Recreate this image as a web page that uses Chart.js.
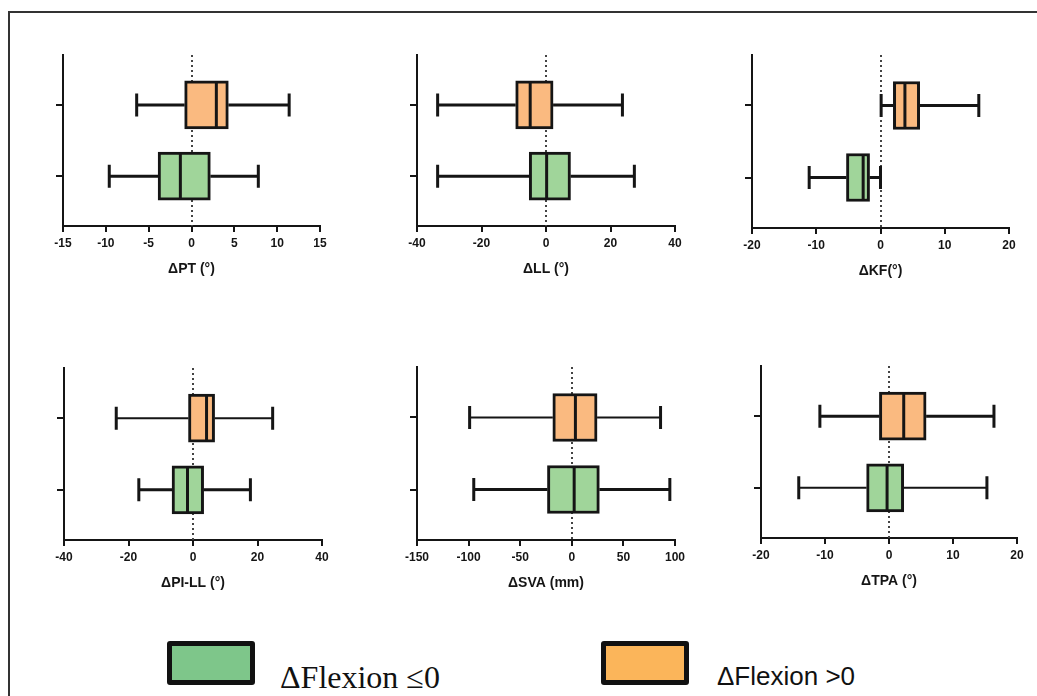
<!DOCTYPE html>
<html>
<head>
<title>Flexion box plots</title>
<script src="https://cdn.jsdelivr.net/npm/chart.js"></script>
<style>
body { margin:0; background:#fff; width:1037px; height:696px; overflow:hidden; position:relative; }
.frame { position:absolute; left:8px; top:11px; width:1100px; height:1000px; border-top:2px solid #333; border-left:2px solid #333; }
canvas { position:absolute; }
.key { position:absolute; box-sizing:border-box; border:5px solid #111; border-radius:3px; width:88px; height:44px; top:641px; }
.keytext { position:absolute; white-space:nowrap; color:#111; line-height:1; }
</style>
</head>
<body>
<div class="frame"></div>
<canvas id="p0"></canvas>
<canvas id="p1"></canvas>
<canvas id="p2"></canvas>
<canvas id="p3"></canvas>
<canvas id="p4"></canvas>
<canvas id="p5"></canvas>

<div class="key" style="left:167px; background:#7EC68A;"></div>
<div class="keytext" id="k0" style="left:280px; top:661px; font-family:'Liberation Serif', serif; font-size:32px;"></div>
<div class="key" style="left:601px; background:#FBB55A;"></div>
<div class="keytext" id="k1" style="left:717px; top:663px; font-family:'Liberation Sans', Arial, sans-serif; font-size:26px;"></div>

<script>
// data
const groups = ['ΔFlexion ≤0', 'ΔFlexion >0'];
const axisTitles = ['ΔPT (°)', 'ΔLL (°)', 'ΔKF(°)', 'ΔPI-LL (°)', 'ΔSVA (mm)', 'ΔTPA (°)'];
const xMin = [-15, -40, -20, -40, -150, -20];
const xMax = [15, 40, 20, 40, 100, 20];
const xStep = [5, 20, 10, 20, 50, 10];
// [min, q1, median, q3, max]
const flexNeg = [
    [-9.6, -3.9, -1.3, 2.2, 7.8],
    [-33.6, -5.2, 0.2, 7.6, 27.4],
    [-11.1, -5.3, -2.7, -1.7, 0],
    [-16.8, -6.5, -1.7, 3.3, 17.8],
    [-95, -23.6, 2.3, 26.7, 95],
    [-14.1, -3.5, -0.3, 2.3, 15.3]
];
const flexPos = [
    [-6.4, -0.8, 2.9, 4.3, 11.4],
    [-33.6, -9.4, -4.9, 2.2, 23.7],
    [0.1, 2.0, 3.8, 6.1, 15.3],
    [-23.8, -1.4, 4.2, 6.7, 24.7],
    [-99, -18.4, 3.5, 24.5, 86],
    [-10.8, -1.5, 2.3, 5.8, 16.4]
];

// layout: plot area of each panel
const areas = [
    {left: 63, top: 55, w: 257, h: 171},
    {left: 417, top: 55, w: 258, h: 171},
    {left: 752, top: 55, w: 257, h: 173},
    {left: 64, top: 368, w: 258, h: 172},
    {left: 417, top: 367, w: 258, h: 173},
    {left: 761, top: 366, w: 256, h: 172}
];
const whiskerW = [[3, 3], [3, 3], [3, 3], [3, 2], [3, 2], [2, 3]];
const fills = ['#A0D59A', '#FABA80'];
const ink = '#151515';
const Y_AXIS_W = 55, X_AXIS_H = 60, PAD_TOP = 10, PAD_RIGHT = 20;

document.getElementById('k0').textContent = groups[0];
document.getElementById('k1').textContent = groups[1];

const boxPlugin = {
    id: 'boxes',
    beforeDatasetsDraw(chart) {
        const {ctx, chartArea, scales: {x}} = chart;
        const zx = Math.round(x.getPixelForValue(0));
        ctx.save();
        ctx.strokeStyle = '#444';
        ctx.lineWidth = 2;
        ctx.setLineDash([2, 3]);
        ctx.beginPath();
        ctx.moveTo(zx, chartArea.top);
        ctx.lineTo(zx, chartArea.bottom);
        ctx.stroke();
        ctx.setLineDash([]);
        // whiskers behind the boxes
        chart.data.datasets.forEach(ds => {
            const s = ds.stats;
            const yc = chart.scales.y.getPixelForValue(ds.data[0].y);
            ctx.strokeStyle = ink;
            ctx.lineWidth = ds.whisker;
            ctx.beginPath();
            ctx.moveTo(x.getPixelForValue(s[0]), yc);
            ctx.lineTo(x.getPixelForValue(s[1]), yc);
            ctx.moveTo(x.getPixelForValue(s[3]), yc);
            ctx.lineTo(x.getPixelForValue(s[4]), yc);
            ctx.stroke();
            ctx.lineWidth = 3;
            ctx.beginPath();
            [s[0], s[4]].forEach(v => {
                const px = x.getPixelForValue(v);
                ctx.moveTo(px, yc - 11.5);
                ctx.lineTo(px, yc + 11.5);
            });
            ctx.stroke();
        });
        ctx.restore();
    },
    afterDatasetsDraw(chart) {
        const {ctx, scales: {x, y}} = chart;
        ctx.save();
        chart.data.datasets.forEach(ds => {
            const yc = y.getPixelForValue(ds.data[0].y);
            const mx = x.getPixelForValue(ds.stats[2]);
            ctx.strokeStyle = ink;
            ctx.lineWidth = 3;
            ctx.beginPath();
            ctx.moveTo(mx, yc - 23);
            ctx.lineTo(mx, yc + 23);
            ctx.stroke();
        });
        ctx.restore();
    }
};

areas.forEach((a, i) => {
    const cv = document.getElementById('p' + i);
    cv.width = Y_AXIS_W + a.w + PAD_RIGHT;
    cv.height = PAD_TOP + a.h + X_AXIS_H;
    cv.style.left = (a.left - Y_AXIS_W) + 'px';
    cv.style.top = (a.top - PAD_TOP) + 'px';

    const sets = [flexNeg[i], flexPos[i]].map((s, g) => ({
        label: groups[g],
        data: [{x: [s[1], s[3]], y: g}],
        stats: s,
        whisker: whiskerW[i][g],
        backgroundColor: fills[g],
        borderColor: ink,
        borderWidth: 3,
        borderSkipped: false,
        barThickness: 48,
        grouped: false
    }));

    new Chart(cv.getContext('2d'), {
        type: 'bar',
        data: {datasets: sets},
        options: {
            responsive: false,
            animation: false,
            indexAxis: 'y',
            layout: {padding: {top: PAD_TOP, right: PAD_RIGHT, left: 0, bottom: 0}},
            plugins: {legend: {display: false}, tooltip: {enabled: false}},
            scales: {
                x: {
                    type: 'linear',
                    min: xMin[i],
                    max: xMax[i],
                    ticks: {
                        stepSize: xStep[i],
                        color: ink,
                        padding: 4,
                        maxRotation: 0,
                        font: {family: "'Liberation Sans', Arial, sans-serif", size: 12, weight: 'bold'}
                    },
                    grid: {drawOnChartArea: false, drawTicks: true, tickLength: 6, color: ink, lineWidth: 2},
                    border: {display: true, color: ink, width: 2},
                    title: {
                        display: true,
                        text: axisTitles[i],
                        color: ink,
                        padding: {top: 0, bottom: 8},
                        font: {family: "'Liberation Sans', Arial, sans-serif", size: 14, weight: 'bold'}
                    },
                    afterFit(scale) {
                        scale.height = X_AXIS_H;
                        scale.paddingLeft = 0;
                        scale.paddingRight = 0;
                    }
                },
                y: {
                    type: 'linear',
                    min: -0.7,
                    max: 1.7,
                    offset: false,
                    afterBuildTicks(scale) {
                        scale.ticks = [{value: 0}, {value: 1}];
                    },
                    ticks: {display: false},
                    grid: {offset: false, drawOnChartArea: false, drawTicks: true, tickLength: 7, color: ink, lineWidth: 2},
                    border: {display: true, color: ink, width: 2},
                    afterFit(scale) {
                        scale.width = Y_AXIS_W;
                        scale.paddingTop = 0;
                        scale.paddingBottom = 0;
                    }
                }
            }
        },
        plugins: [boxPlugin]
    });
});
</script>
</body>
</html>
